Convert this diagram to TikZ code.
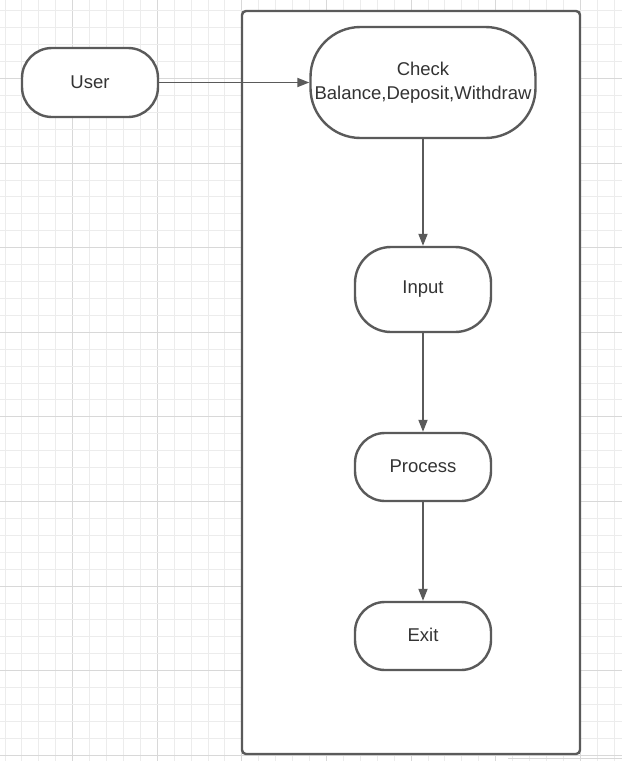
\documentclass[tikz,border=0pt]{standalone}
\usepackage{fontspec}
\setmainfont{Liberation Sans}
\usetikzlibrary{arrows.meta}
\definecolor{ln}{HTML}{5A5A5A}
\definecolor{tx}{HTML}{333333}
\definecolor{gmin}{HTML}{ECECEC}
\definecolor{gmaj}{HTML}{D8D8D8}
\begin{document}
\begin{tikzpicture}[x=1pt,y=-1pt,
  box/.style={draw=ln, line width=2.4pt, fill=white, text=tx,
    font=\fontsize{18.5}{24}\selectfont, align=center, inner sep=0pt},
  frame/.style={draw=ln, line width=2.4pt, fill=white, rounded corners=4pt,
    minimum width=338pt, minimum height=743pt, inner sep=0pt},
  conn/.style={draw=ln, line width=1.8pt, -{Triangle[length=12pt,width=9pt]}}]
\useasboundingbox (0,0) rectangle (622,761);
\fill[white] (0,0) rectangle (622,761);
% grid
\foreach \k in {0,...,36}{
  \pgfmathsetmacro{\xx}{5.02+\k*16.92}
  \pgfmathtruncatemacro{\mm}{mod(\k,5)}
  \ifnum\mm=4 \draw[gmaj, line width=1pt] (\xx,0) -- (\xx,761);
  \else \draw[gmin, line width=1pt] (\xx,0) -- (\xx,761); \fi
}
\foreach \k in {0,...,44}{
  \pgfmathsetmacro{\yy}{10.82+\k*16.92}
  \pgfmathtruncatemacro{\mm}{mod(\k,5)}
  \ifnum\mm=4 \draw[gmaj, line width=1pt] (0,\yy) -- (622,\yy);
  \else \draw[gmin, line width=1pt] (0,\yy) -- (622,\yy); \fi
}
\draw[gmaj, line width=1.5pt] (508,758.5) -- (622,758.5);
% container
\node[frame] (sys) at (411,382.5) {};
% nodes
\node[box, minimum width=136pt, minimum height=69pt, rounded corners=30pt] (user) at (90,82.5) {\raisebox{1.5pt}{User}};
\node[box, minimum width=225pt, minimum height=111pt, rounded corners=50pt] (check) at (423,82.5) {Check\\Balance,Deposit,Withdraw};
\node[box, minimum width=136pt, minimum height=85pt, rounded corners=36pt] (input) at (423,289.5) {\raisebox{2pt}{Input}};
\node[box, minimum width=136pt, minimum height=68pt, rounded corners=30pt] (process) at (423,467) {\raisebox{2pt}{Process}};
\node[box, minimum width=136pt, minimum height=68pt, rounded corners=30pt] (exit) at (423,636) {\raisebox{2.5pt}{Exit}};
% connectors
\draw[conn] (user.east) -- (check.west);
\draw[conn] (check.south) -- (input.north);
\draw[conn] (input.south) -- (process.north);
\draw[conn] (process.south) -- (exit.north);
\end{tikzpicture}
\end{document}
